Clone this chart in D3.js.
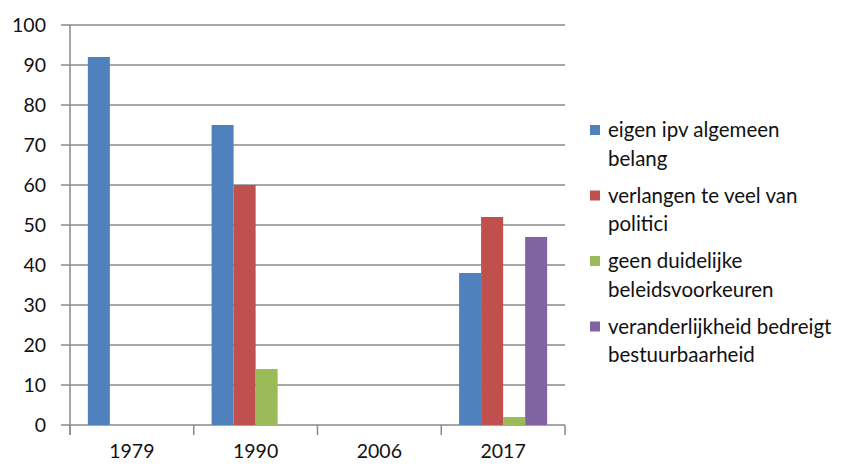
<!DOCTYPE html>
<html>
<head>
<meta charset="utf-8">
<script src="https://cdn.jsdelivr.net/npm/d3@7"></script>
<style>
  body { margin: 0; background: #fff; }
  text { font-family: Lato, "Open Sans", sans-serif; fill: #111; }
</style>
</head>
<body>
<div id="chart"></div>
<script>
// Chart data
const years = ["1979", "1990", "2006", "2017"];
const series = [
  "eigen ipv algemeen belang",
  "verlangen te veel van politici",
  "geen duidelijke beleidsvoorkeuren",
  "veranderlijkheid bedreigt bestuurbaarheid"
];
const legendLines = [
  ["eigen ipv algemeen", "belang"],
  ["verlangen te veel van", "politici"],
  ["geen duidelijke", "beleidsvoorkeuren"],
  ["veranderlijkheid bedreigt", "bestuurbaarheid"]
];
const eigenBelang = [92, 75, null, 38];
const teVeel = [null, 60, null, 52];
const geenVoorkeur = [null, 14, null, 2];
const veranderlijk = [null, null, null, 47];
const yTicks = [0, 10, 20, 30, 40, 50, 60, 70, 80, 90, 100];
const colors = ["#4F81BD", "#C0504D", "#9BBB59", "#8064A2"];

const values = [eigenBelang, teVeel, geenVoorkeur, veranderlijk];

const width = 857, height = 468;
const margin = { left: 70, right: 292, top: 25, bottom: 43 };

const svg = d3.select("#chart").append("svg")
  .attr("width", width)
  .attr("height", height);

const x0 = d3.scaleBand()
  .domain(years)
  .range([margin.left, width - margin.right]);

const x1 = d3.scaleBand()
  .domain(series)
  .range([0, x0.bandwidth()])
  .paddingOuter(0.81);

const y = d3.scaleLinear()
  .domain([0, 100])
  .range([height - margin.bottom, margin.top]);

// gridlines
svg.append("g")
  .selectAll("line")
  .data(yTicks)
  .enter().append("line")
  .attr("x1", margin.left - 9)
  .attr("x2", width - margin.right)
  .attr("y1", d => y(d))
  .attr("y2", d => y(d))
  .attr("stroke", "#8a8a8a")
  .attr("stroke-width", 1.5);

// y axis line
svg.append("line")
  .attr("x1", margin.left).attr("x2", margin.left)
  .attr("y1", y(100)).attr("y2", y(0) + 10)
  .attr("stroke", "#8a8a8a")
  .attr("stroke-width", 1.5);

// y labels
svg.append("g")
  .selectAll("text")
  .data(yTicks)
  .enter().append("text")
  .attr("x", margin.left - 24)
  .attr("y", d => y(d))
  .attr("dy", "0.36em")
  .attr("text-anchor", "end")
  .style("font-size", "19.5px")
  .text(d => d);

// x ticks at band edges
const edges = years.map(d => x0(d)).concat([x0(years[years.length - 1]) + x0.bandwidth()]);
svg.append("g")
  .selectAll("line")
  .data(edges)
  .enter().append("line")
  .attr("x1", d => d).attr("x2", d => d)
  .attr("y1", y(0)).attr("y2", y(0) + 10)
  .attr("stroke", "#8a8a8a")
  .attr("stroke-width", 1.5);

// bars
const barData = [];
years.forEach((yr, i) => {
  series.forEach((s, j) => {
    if (values[j][i] != null) barData.push({ year: yr, s: s, v: values[j][i], c: colors[j] });
  });
});

svg.append("g")
  .selectAll("rect")
  .data(barData)
  .enter().append("rect")
  .attr("x", d => x0(d.year) + x1(d.s))
  .attr("y", d => y(d.v))
  .attr("width", x1.bandwidth())
  .attr("height", d => y(0) - y(d.v))
  .attr("fill", d => d.c);

// x labels
svg.append("g")
  .selectAll("text")
  .data(years)
  .enter().append("text")
  .attr("x", d => x0(d) + x0.bandwidth() / 2)
  .attr("y", height - 10)
  .attr("text-anchor", "middle")
  .style("font-size", "19.5px")
  .text(d => d);

// legend
const legend = svg.append("g")
  .selectAll("g")
  .data(legendLines)
  .enter().append("g")
  .attr("transform", (d, i) => "translate(590," + (130 + i * 65.5) + ")");

legend.append("rect")
  .attr("x", 0).attr("y", -5)
  .attr("width", 10).attr("height", 10)
  .attr("fill", (d, i) => colors[i]);

legend.append("text")
  .selectAll("tspan")
  .data(d => d)
  .enter().append("tspan")
  .attr("x", 18)
  .attr("y", (d, i) => i * 28.5)
  .attr("dy", "0.36em")
  .style("font-size", "20.5px")
  .text(d => d);
</script>
</body>
</html>
